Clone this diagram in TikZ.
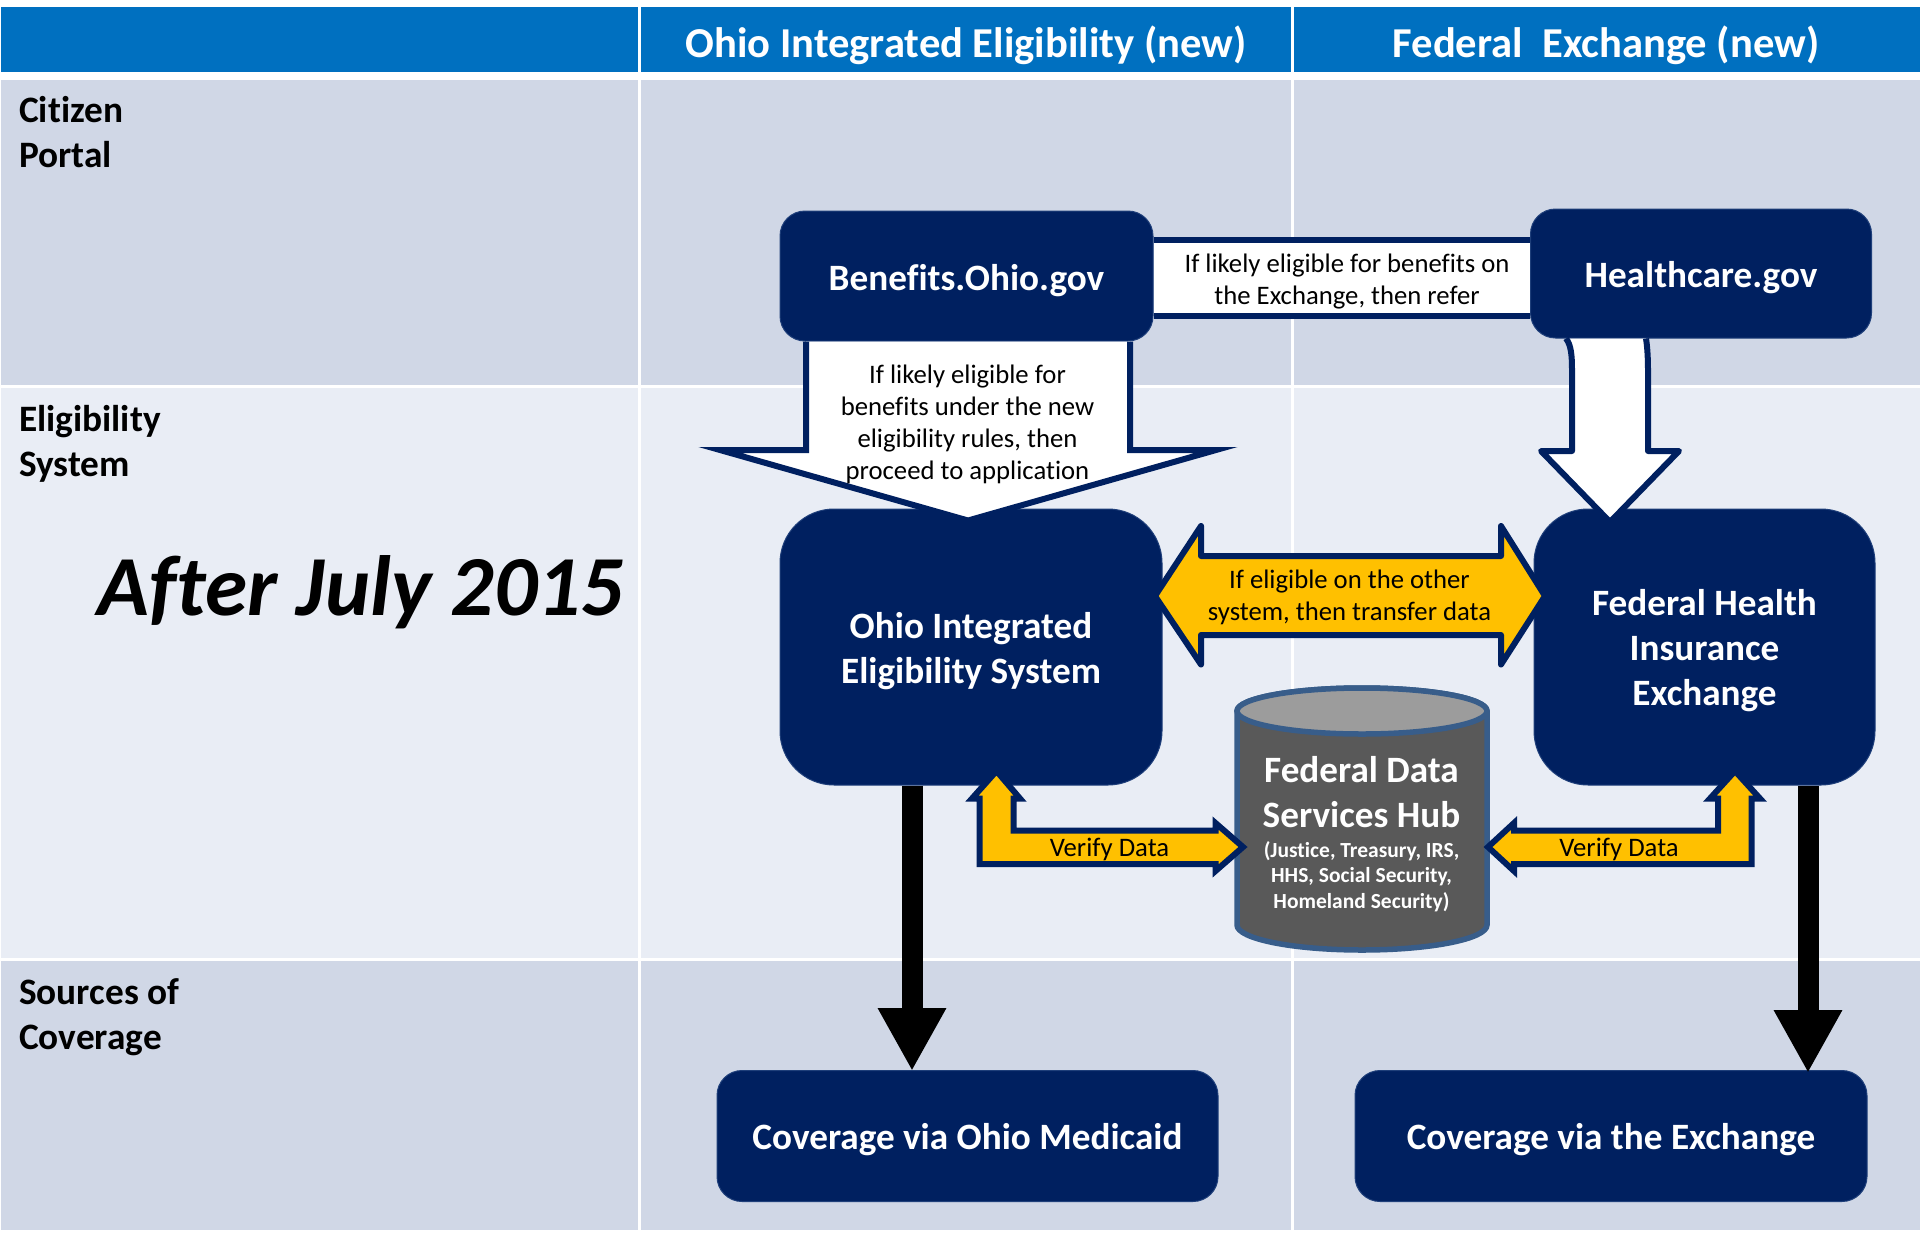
\documentclass[tikz,border=0pt]{standalone}
\usepackage{fontspec}
\setmainfont{Carlito}[Ligatures=NoCommon]
\usetikzlibrary{arrows.meta,calc}
\definecolor{navy}{HTML}{002060}
\definecolor{navyedge}{HTML}{1F3F7A}
\definecolor{headblue}{HTML}{0070C0}
\definecolor{rowdark}{HTML}{D0D7E6}
\definecolor{rowlight}{HTML}{E9EDF5}
\definecolor{gold}{HTML}{FFC000}
\definecolor{hubedge}{HTML}{385D8A}
\definecolor{hubbody}{HTML}{595959}
\definecolor{hubtop}{HTML}{9C9C9C}
\newcommand{\fsz}[2]{\fontsize{#1}{#2}\selectfont}
\newcommand{\lowertext}[2]{\raisebox{-#1pt}[\height][\depth]{\begin{tabular}{@{}c@{}}#2\end{tabular}}}
\tikzset{
  x=1pt,y=-1pt,
  headcell/.style={fill=headblue},
  darkcell/.style={fill=rowdark},
  lightcell/.style={fill=rowlight},
  navybox/.style={rectangle,fill=navy,draw=navyedge,line width=1pt,inner sep=0pt,text=white,align=center},
  smallbox/.style={navybox,rounded corners=25pt},
  bigbox/.style={navybox,rounded corners=54pt},
  boxlabel/.style={font=\bfseries\fsz{37.2}{45}},
  headlabel/.style={text=white,font=\bfseries\fsz{42.6}{48}},
  rowlabel/.style={anchor=west,align=left,inner sep=0pt,font=\bfseries\fsz{37.3}{45}},
  tinylabel/.style={align=center,inner sep=0pt,font=\fsz{26.7}{32.2}},
  whiteblock/.style={fill=white,draw=navy,line width=6pt,miter limit=20},
  goldblock/.style={fill=gold,draw=navy,line width=6pt,miter limit=20},
  heavyarrow/.style={draw=black,line width=21pt,-{Triangle[length=63pt,width=64pt]}},
}
\begin{document}
\begin{tikzpicture}
\useasboundingbox (0,0) rectangle (1920,1232);
% table grid
\fill[headcell] (1,7) rectangle (638,72);
\fill[headcell] (641,7) rectangle (1291,72);
\fill[headcell] (1294,7) rectangle (1920,72);
\fill[darkcell] (1,80) rectangle (638,385);
\fill[darkcell] (641,80) rectangle (1291,385);
\fill[darkcell] (1294,80) rectangle (1920,385);
\fill[lightcell] (1,388) rectangle (638,958);
\fill[lightcell] (641,388) rectangle (1291,958);
\fill[lightcell] (1294,388) rectangle (1920,958);
\fill[darkcell] (1,961) rectangle (638,1230);
\fill[darkcell] (641,961) rectangle (1291,1230);
\fill[darkcell] (1294,961) rectangle (1920,1230);
% header and row labels
\node[headlabel] (hdrohio) at (966,45) {Ohio Integrated Eligibility (new)};
\node[headlabel] (hdrfed) at (1606,45) {Federal\ \ Exchange (new)};
\node[rowlabel] (rowportal) at (19,132) {Citizen\\Portal};
\node[rowlabel] (rowelig) at (19,444) {Eligibility\\System};
\node[rowlabel] (rowcov) at (19,1017.5) {Sources of\\Coverage};
\node[font=\bfseries\itshape\fsz{85.5}{90},inner sep=0pt] (when) at (361,592) {After July 2015};
% boxes
\node[smallbox,boxlabel,minimum width=373pt,minimum height=130pt] (benefits) at (966.5,276) {\lowertext{5}{Benefits.Ohio.gov}};
\node[smallbox,boxlabel,minimum width=341pt,minimum height=129pt] (healthcare) at (1701,273.5) {\lowertext{5}{Healthcare.gov}};
\node[bigbox,boxlabel,minimum width=382pt,minimum height=276pt] (ohio) at (971,647) {\lowertext{5}{Ohio Integrated\\Eligibility System}};
\node[bigbox,boxlabel,minimum width=341pt,minimum height=276pt] (federal) at (1704.5,647) {\lowertext{4}{Federal Health\\Insurance\\Exchange}};
\node[smallbox,boxlabel,minimum width=501pt,minimum height=131pt] (medicaid) at (967.5,1136) {\lowertext{4}{Coverage via Ohio Medicaid}};
\node[smallbox,boxlabel,minimum width=512pt,minimum height=131pt] (exchange) at (1611,1136) {\lowertext{4}{Coverage via the Exchange}};
% referral band
\fill[white] (benefits.east |- 0,240) rectangle (healthcare.west |- 0,315.5);
\draw[navy,line width=6pt] (benefits.east |- 0,240) -- (healthcare.west |- 0,240);
\draw[navy,line width=6pt] (benefits.east |- 0,315.5) -- (healthcare.west |- 0,315.5);
\node[tinylabel] (bandtext) at (1347,281.5) {If likely eligible for benefits on\\the Exchange, then refer};
% big white arrow
\draw[whiteblock] ($(benefits.south)+(-160.5,0)$) -- (806,450) -- (720,450) -- ($(ohio.north)+(-3,12)$) -- (1216,450) -- (1130,450) -- ($(benefits.south)+(163.5,0)$);
\node[tinylabel] (downtext) at (967.5,424.5) {If likely eligible for\\benefits under the new\\eligibility rules, then\\proceed to application};
% right white arrow
\draw[whiteblock,line join=round] ($(healthcare.south)+(-135,0)$) .. controls (1571,345) and (1572,355) .. (1572,370) -- (1572,451) -- (1541,451) -- (1610,522) -- (1679,451) -- (1648,451) -- (1648,370) .. controls (1648,355) and (1647,345) .. ($(healthcare.south)+(-55,0)$);
% transfer arrow
\draw[goldblock,line join=round] (1155,596) -- (1201,526) -- (1201,556) -- (1501,556) -- (1501,526) -- (1545,596) -- (1501,664.5) -- (1501,635) -- (1201,635) -- (1201,664.5) -- cycle;
\node[tinylabel] (transfertext) at (1349.5,597.5) {If eligible on the other\\system, then transfer data};
% hub cylinder
\draw[fill=hubbody,draw=hubedge,line width=5.5pt] (1237,711) -- (1237,925) arc[start angle=180,end angle=360,x radius=125,y radius=-25] -- (1487,711) arc[start angle=0,end angle=180,x radius=125,y radius=-23] -- cycle;
\draw[fill=hubtop,draw=hubedge,line width=5.5pt] (1362,711) ellipse[x radius=125,y radius=23];
\node[text=white,align=center,inner sep=0pt,font=\bfseries\fsz{37.2}{45}] (hub) at (1361.5,792) {Federal Data\\Services Hub};
\node[text=white,align=center,inner sep=0pt,font=\bfseries\fsz{21.5}{25.7}] (hubsub) at (1361.5,876.5) {(Justice, Treasury, IRS,\\HHS, Social Security,\\Homeland Security)};
% verify arrows
\draw[goldblock] (996.5,771) -- (1020,798.5) -- (1013.5,798.5) -- (1013.5,830.5) -- (1215.5,830.5) -- (1215.5,823) -- (1243,847) -- (1215.5,871) -- (1215.5,864) -- (979.5,864) -- (979.5,798.5) -- (972,798.5) -- cycle;
\node[tinylabel] (verifyl) at (1109.5,849.5) {Verify Data};
\draw[goldblock] (1735,771) -- (1760,798.5) -- (1751.5,798.5) -- (1751.5,864) -- (1514,864) -- (1514,871) -- (1488,847) -- (1514,823) -- (1514,830.5) -- (1718,830.5) -- (1718,798.5) -- (1710,798.5) -- cycle;
\node[tinylabel] (verifyr) at (1619,849.5) {Verify Data};
% black arrows
\coordinate (blacka) at ($(ohio.south)+(-59,0)$);
\coordinate (blackb) at ($(blacka |- medicaid.north)+(0,1)$);
\draw[heavyarrow] (blacka) -- (blackb);
\coordinate (blackc) at ($(federal.south)+(103.5,0)$);
\coordinate (blackd) at ($(blackc |- exchange.north)+(0,3)$);
\draw[heavyarrow] (blackc) -- (blackd);
\end{tikzpicture}
\end{document}
